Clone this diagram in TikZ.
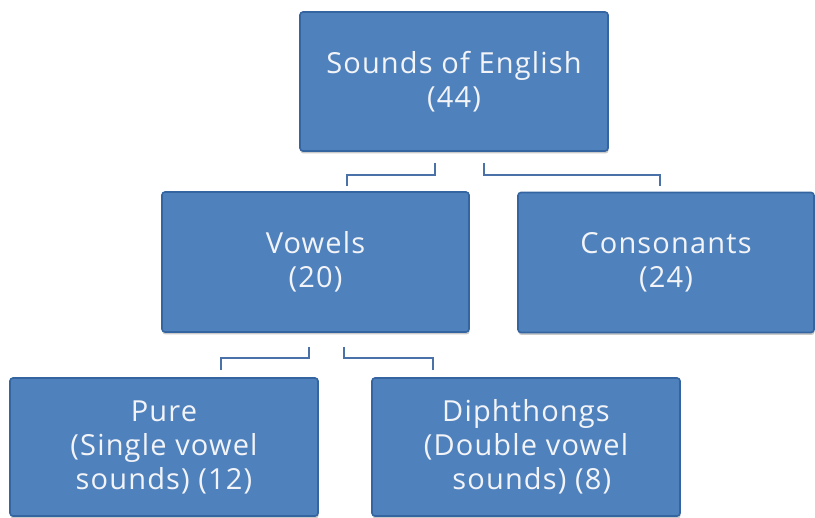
\documentclass[tikz,border=0pt]{standalone}
\usepackage{fontspec}
\setmainfont[LetterSpace=4]{Open Sans}
\usetikzlibrary{shadows}
\definecolor{boxfill}{HTML}{4F81BD}
\definecolor{boxline}{HTML}{3565A0}
\definecolor{connline}{HTML}{4A72A8}
\definecolor{txt}{HTML}{F2F4F8}
\tikzset{
  box/.style={draw=boxline, line width=1.6pt, fill=boxfill, rounded corners=3pt,
    text=txt, align=center, inner sep=0pt, font=\fontsize{29}{34}\selectfont,
    drop shadow={shadow xshift=0.5pt, shadow yshift=-2.5pt, opacity=0.35, fill=black!60}},
  conn/.style={draw=connline, line width=1.6pt}
}
\begin{document}
\begin{tikzpicture}[x=1pt,y=1pt]
\useasboundingbox (0,0) rectangle (815,-518);
\node[box, minimum width=308pt, minimum height=139pt] (top) at (454,-81.5) {Sounds of English\\(44)};
\node[box, minimum width=307pt, minimum height=140pt] (vow) at (315.5,-262) {Vowels\\(20)};
\node[box, minimum width=296pt, minimum height=140pt] (con) at (666,-262.5) {Consonants\\(24)};
\node[box, minimum width=308pt, minimum height=138pt] (pure) at (164,-447) {Pure\\(Single vowel\\sounds) (12)};
\node[box, minimum width=308pt, minimum height=138pt] (diph) at (526,-447) {Diphthongs\\(Double vowel\\\hspace*{0.4em}sounds) (8)};
% connectors
\coordinate (a1) at (435,-163); \coordinate (a2) at (347,-186);
\coordinate (b1) at (484,-163); \coordinate (b2) at (660,-186);
\coordinate (c1) at (309,-347); \coordinate (c2) at (221,-370);
\coordinate (d1) at (344,-347); \coordinate (d2) at (433,-370);
\draw[conn] (a1) -- ++(0,-12) -| (a2);
\draw[conn] (b1) -- ++(0,-12) -| (b2);
\draw[conn] (c1) -- ++(0,-11) -| (c2);
\draw[conn] (d1) -- ++(0,-11) -| (d2);
\end{tikzpicture}
\end{document}
